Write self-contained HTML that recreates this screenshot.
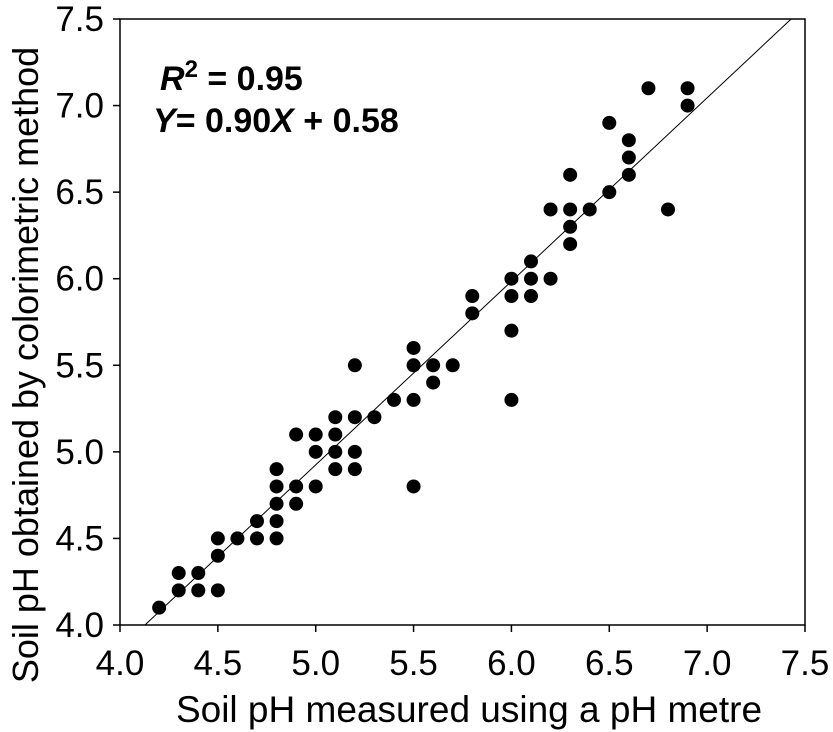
<!DOCTYPE html>
<html><head><meta charset="utf-8"><style>
body{margin:0;background:#fff}
svg{display:block;font-family:"Liberation Sans",Arial,sans-serif}
</style></head><body>
<svg width="833" height="732" id="chart">
<g id="plot"></g>
</svg>
<script>
const xs=[4.2,4.3,4.3,4.4,4.4,4.5,4.5,4.5,4.6,4.7,4.7,4.8,4.8,4.8,4.8,4.8,4.9,4.9,4.9,5.0,5.0,5.0,5.1,5.1,5.1,5.1,5.2,5.2,5.2,5.2,5.3,5.4,5.5,5.5,5.5,5.5,5.6,5.6,5.7,5.8,5.8,6.0,6.0,6.0,6.0,6.1,6.1,6.1,6.2,6.2,6.3,6.3,6.3,6.3,6.4,6.5,6.5,6.6,6.6,6.6,6.7,6.8,6.9,6.9];
const ys=[4.1,4.2,4.3,4.2,4.3,4.2,4.4,4.5,4.5,4.5,4.6,4.5,4.6,4.7,4.8,4.9,4.7,4.8,5.1,4.8,5.0,5.1,4.9,5.0,5.1,5.2,4.9,5.0,5.2,5.5,5.2,5.3,4.8,5.3,5.5,5.6,5.4,5.5,5.5,5.8,5.9,5.3,5.7,5.9,6.0,5.9,6.0,6.1,6.0,6.4,6.2,6.3,6.4,6.6,6.4,6.5,6.9,6.6,6.7,6.8,7.1,6.4,7.0,7.1];
const xTicks=[4.0,4.5,5.0,5.5,6.0,6.5,7.0,7.5];
const yTicks=[4.0,4.5,5.0,5.5,6.0,6.5,7.0,7.5];
const fitSlope=1.06, fitIntercept=-0.375;
const X0=120,X1=805,Y0=625,Y1=19;
const sx=v=>X0+(v-4)/3.5*(X1-X0);
const sy=v=>Y0-(v-4)/3.5*(Y0-Y1);
const NS="http://www.w3.org/2000/svg";
const g=document.getElementById('plot');
function mk(t,a,txt){const e=document.createElementNS(NS,t);for(const k in a)e.setAttribute(k,a[k]);if(txt!=null)e.textContent=txt;g.appendChild(e);return e;}
let e=mk('rect',{x:X0,y:Y1,width:X1-X0,height:Y0-Y1,fill:'none',stroke:'#000','stroke-width':1.5});


xTicks.forEach(t=>{
 let l=mk('line',{x1:sx(t),x2:sx(t),y1:Y0,y2:Y0+7,stroke:'#000','stroke-width':1.5});
 
 
 let tx=mk('text',{x:sx(t),y:Y0+50,'font-size':35,'text-anchor':'middle'},t.toFixed(1));
 
 
});
yTicks.forEach(t=>{
 let l=mk('line',{x1:X0-7,x2:X0,y1:sy(t),y2:sy(t),stroke:'#000','stroke-width':1.5});
 
 
 let tx=mk('text',{x:104,y:sy(t)+12,'font-size':35,'text-anchor':'end'},t.toFixed(1));
 
 
});
const xa=(4-fitIntercept)/fitSlope, xb=(7.5-fitIntercept)/fitSlope;
e=mk('line',{x1:sx(xa),y1:sy(4),x2:sx(xb),y2:sy(7.5),stroke:'#000','stroke-width':1});


xs.forEach((x,i)=>{
 let c=mk('circle',{cx:sx(x),cy:sy(ys[i]),r:7,fill:'#000'});
 
 
});
e=mk('text',{x:469,y:722,'font-size':37,'text-anchor':'middle'},'Soil pH measured using a pH metre');


e=mk('text',{x:0,y:0,'font-size':36,'text-anchor':'middle',transform:'translate(38,365) rotate(-90)'},'Soil pH obtained by colorimetric method');


</script>
<svg width="833" height="732" style="position:absolute;left:0;top:0">
<text x="160" y="90" font-family="Liberation Sans,Arial,sans-serif" font-size="34" font-weight="bold"><tspan font-style="italic">R</tspan><tspan dy="-13" font-size="24">2</tspan><tspan dy="13"> = 0.95</tspan></text>
<text x="153" y="132" font-family="Liberation Sans,Arial,sans-serif" font-size="34" font-weight="bold"><tspan font-style="italic">Y</tspan>= 0.90<tspan font-style="italic">X</tspan> + 0.58</text>
</svg>
</body></html>
